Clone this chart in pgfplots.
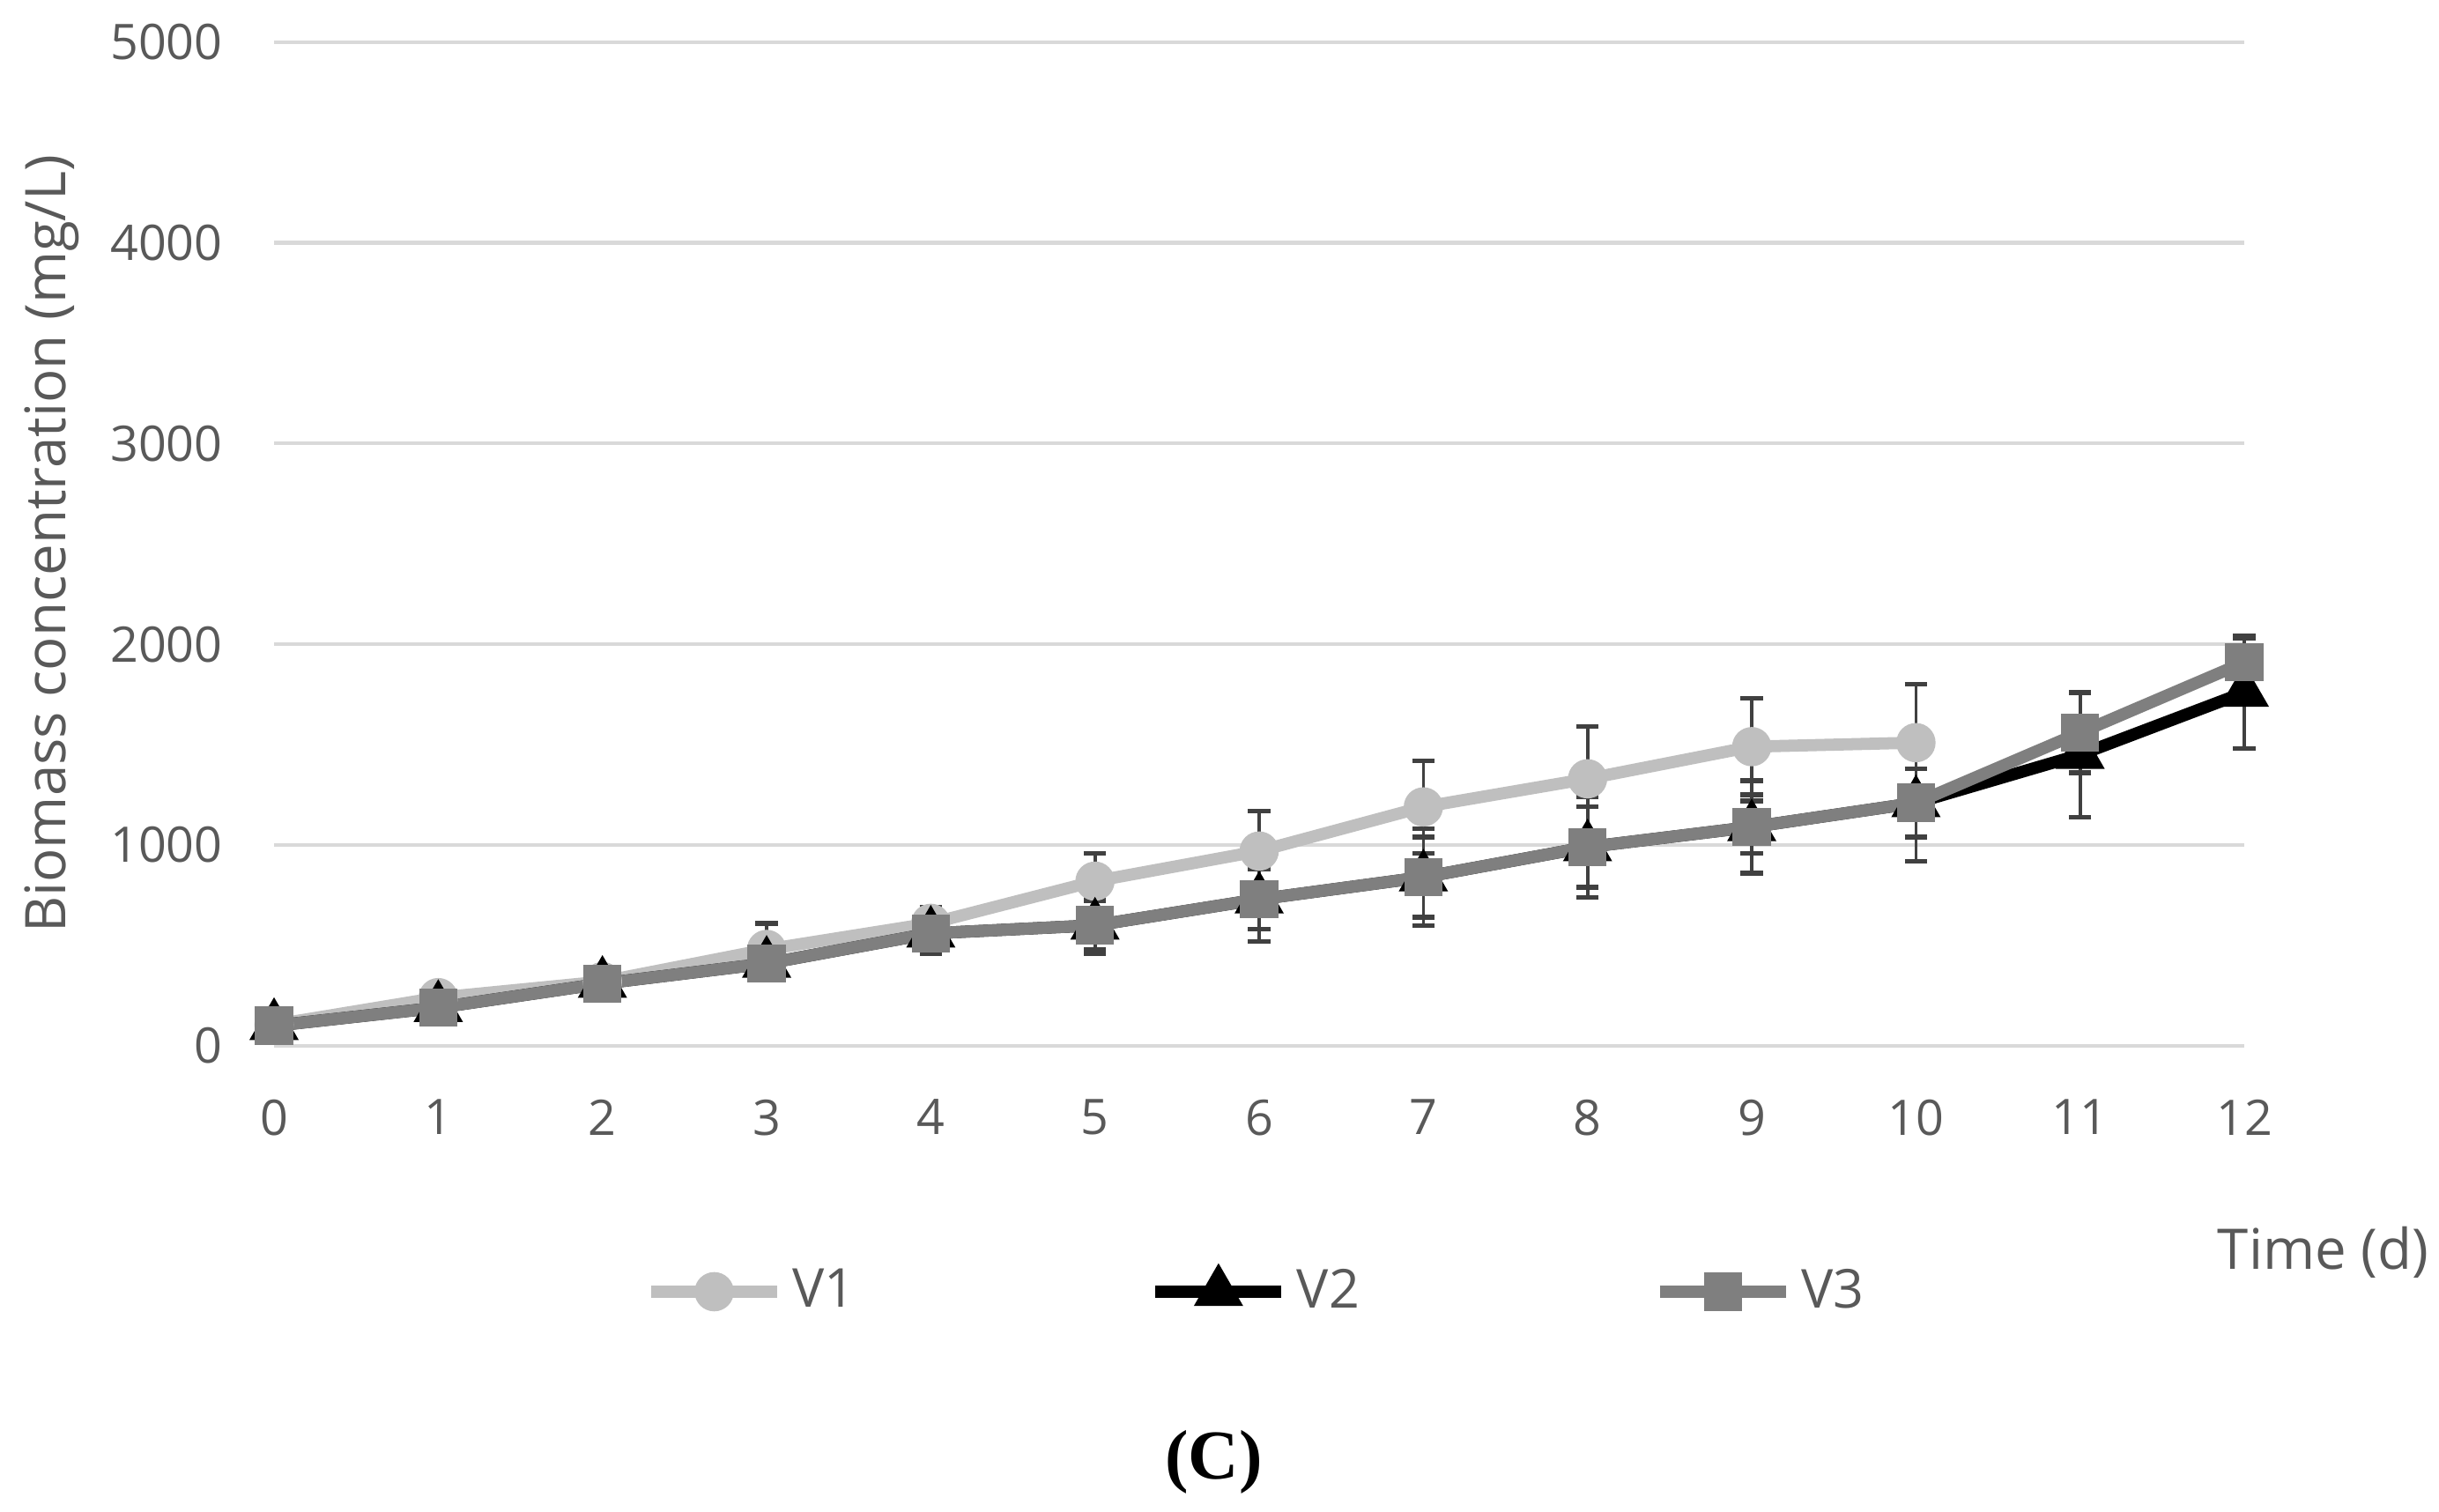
\documentclass[border=0pt]{standalone}
\usepackage{fontspec}
\setmainfont{Open Sans}
\newfontfamily\capfont{Liberation Serif}
\usepackage{pgfplots}
\pgfplotsset{compat=1.18}

\definecolor{vone}{HTML}{BFBFBF}
\definecolor{vtwo}{HTML}{000000}
\definecolor{vthree}{HTML}{7F7F7F}
\definecolor{errc}{HTML}{404040}
\definecolor{txt}{HTML}{595959}
\definecolor{gridc}{HTML}{D9D9D9}

\begin{document}
\begin{tikzpicture}
\useasboundingbox (-58.7pt,-99.7pt) rectangle (463.7pt,224pt);
\begin{axis}[
    scale only axis,
    width=422pt, height=215pt,
    xmin=0, xmax=12, ymin=0, ymax=5000,
    xtick={0,...,12}, ytick={0,1000,...,5000},
    axis line style={draw=none},
    major tick length=0pt,
    ymajorgrids, grid style={gridc, line width=0.8pt},
    clip=false,
    /pgf/number format/assume math mode=true,
    /pgf/number format/1000 sep={},
    ticklabel style={font=\fontsize{10.5}{12}\selectfont, text=txt},
    yticklabel style={xshift=-7.5pt},
    xticklabel style={yshift=-8pt},
    xlabel={Time (d)},
    xlabel style={at={(axis description cs:1.04,-0.206)}, anchor=center,
        font=\fontsize{12}{14}\selectfont, text=txt},
    ylabel={Biomass concentration (mg/L)},
    ylabel style={at={(axis description cs:-0.113,0.5)}, anchor=center,
        font=\fontsize{12}{14}\selectfont, text=txt},
    legend columns=3,
    legend style={draw=none, fill=none, at={(0.5,-0.245)}, anchor=center,
        font=\fontsize{11.5}{14}\selectfont, text=txt,
        nodes={inner xsep=2pt},
        /tikz/every even column/.append style={column sep=61pt}},
    legend image code/.code={
        \draw[mark repeat=2,mark phase=2] plot coordinates {(0pt,0pt) (13.5pt,0pt) (27pt,0pt)};},
    every axis plot/.append style={line width=2.6pt},
    error bars/error bar style={errc, line width=0.7pt},
    error bars/error mark options={errc, rotate=90, mark size=2.4pt, line width=1pt},
]
\addplot[vone, mark=*, mark size=2.9pt,
    error bars/.cd, y dir=both, y explicit]
    table[x=t, y=v, y error=e] {
t v e
0 105 20
1 240 40
2 320 40
3 480 130
4 610 80
5 820 140
6 970 200
7 1190 230
8 1330 260
9 1490 240
10 1510 290
};
\addlegendentry{V1}
\addplot[vtwo, mark=triangle*, mark size=3.5pt,
    error bars/.cd, y dir=both, y explicit]
    table[x=t, y=v, y error=e] {
t v e
0 100 20
1 190 30
2 310 40
3 410 60
4 560 90
5 600 140
6 730 210
7 840 240
8 990 250
9 1090 230
10 1210 290
11 1450 310
12 1760 280
};
\addlegendentry{V2}
\addplot[vthree, mark=square*, mark size=2.8pt,
    error bars/.cd, y dir=both, y explicit]
    table[x=t, y=v, y error=e] {
t v e
0 100 20
1 190 40
2 310 60
3 410 60
4 560 100
5 600 120
6 730 150
7 840 200
8 990 200
9 1090 130
10 1210 170
11 1560 200
12 1910 120
};
\addlegendentry{V3}
\node[font=\capfont\bfseries\fontsize{15}{17}\selectfont, text=black]
    at (axis description cs:0.477,-0.415) {(C)};
\end{axis}
\end{tikzpicture}
\end{document}
